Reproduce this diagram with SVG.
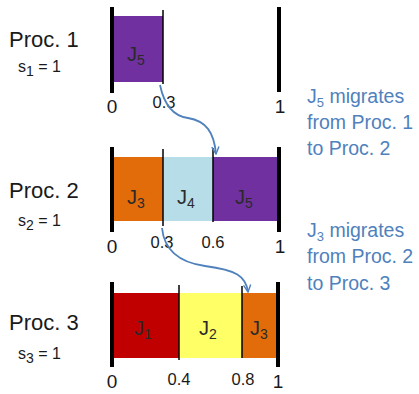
<svg xmlns="http://www.w3.org/2000/svg" width="419" height="394" viewBox="0 0 419 394">
<defs>
<style>
text{font-family:"Liberation Sans",Arial,sans-serif;fill:#1a1a1a}
.proc{font-size:22px}
.s{font-size:16px}
.job{font-size:20px;text-anchor:middle;fill:#2a2a2a}
.sub{font-size:14px}
.big{font-size:19px;text-anchor:middle}
.tick{font-size:16.5px;text-anchor:middle}
.note{font-size:19.5px;fill:#4f81bd}
.bar{stroke:#000;stroke-width:4}
.thin{stroke:#000;stroke-width:1.5}
.conn{fill:none;stroke:#4f81bd;stroke-width:1.8}
</style>
<marker id="ah" viewBox="0 0 10 10" refX="9" refY="5" markerWidth="9" markerHeight="9" markerUnits="userSpaceOnUse" orient="auto">
<path d="M1,1 L9,5 L1,9" fill="none" stroke="#4f81bd" stroke-width="1.6"/>
</marker>
</defs>
<rect width="419" height="394" fill="#fff"/>

<g id="proc1">
<text class="proc" x="9" y="47">Proc. 1</text>
<text class="s" x="18" y="72">s<tspan class="sub" dy="4">1</tspan><tspan dy="-4"> = 1</tspan></text>
<rect x="113" y="16" width="50" height="66" fill="#7030a0"/>
<line class="bar" x1="112" y1="7" x2="112" y2="93"/>
<line class="thin" x1="163" y1="10" x2="163" y2="84"/>
<line class="bar" x1="279" y1="7" x2="279" y2="92"/>
<text class="job" x="136" y="61">J<tspan class="sub" dy="4">5</tspan></text>
<text class="big" x="112" y="113">0</text>
<text class="tick" x="164" y="108">0.3</text>
<text class="big" x="280" y="113">1</text>
</g>

<g id="proc2">
<text class="proc" x="9" y="198">Proc. 2</text>
<text class="s" x="18" y="226">s<tspan class="sub" dy="4">2</tspan><tspan dy="-4"> = 1</tspan></text>
<rect x="113" y="157" width="50" height="64" fill="#e36c0a"/>
<rect x="163" y="157" width="50" height="64" fill="#b7dde8"/>
<rect x="213" y="157" width="66" height="64" fill="#7030a0"/>
<line class="bar" x1="112" y1="147" x2="112" y2="232"/>
<line class="thin" x1="163" y1="149" x2="163" y2="226"/>
<line class="thin" x1="213" y1="148" x2="213" y2="222"/>
<line class="bar" x1="279" y1="147" x2="279" y2="232"/>
<text class="job" x="136" y="204">J<tspan class="sub" dy="4">3</tspan></text>
<text class="job" x="186" y="204">J<tspan class="sub" dy="4">4</tspan></text>
<text class="job" x="244" y="204">J<tspan class="sub" dy="4">5</tspan></text>
<text class="big" x="112" y="253">0</text>
<text class="tick" x="162" y="248">0.3</text>
<text class="tick" x="213" y="248">0.6</text>
<text class="big" x="280" y="253">1</text>
</g>

<g id="proc3">
<text class="proc" x="9" y="330">Proc. 3</text>
<text class="s" x="18" y="359">s<tspan class="sub" dy="4">3</tspan><tspan dy="-4"> = 1</tspan></text>
<rect x="113" y="293" width="66" height="65" fill="#c00000"/>
<rect x="179" y="293" width="63" height="65" fill="#ffff66"/>
<rect x="242" y="293" width="36" height="65" fill="#e36c0a"/>
<line class="bar" x1="112" y1="282" x2="112" y2="367"/>
<line class="thin" x1="179" y1="285" x2="179" y2="360"/>
<line class="thin" x1="242" y1="286" x2="242" y2="358"/>
<line class="bar" x1="278" y1="282" x2="278" y2="367"/>
<text class="job" x="143" y="335">J<tspan class="sub" dy="4">1</tspan></text>
<text class="job" x="208" y="335">J<tspan class="sub" dy="4">2</tspan></text>
<text class="job" x="259" y="335">J<tspan class="sub" dy="4">3</tspan></text>
<text class="big" x="112" y="388">0</text>
<text class="tick" x="179" y="385">0.4</text>
<text class="tick" x="243" y="385">0.8</text>
<text class="big" x="278" y="388">1</text>
</g>

<g id="note1">
<text class="note" x="307" y="103">J<tspan font-size="13" dy="4">5</tspan><tspan dy="-4"> migrates</tspan></text>
<text class="note" x="307" y="129">from Proc. 1</text>
<text class="note" x="307" y="155">to Proc. 2</text>
</g>

<g id="note2">
<text class="note" x="307" y="237">J<tspan font-size="13" dy="4">3</tspan><tspan dy="-4"> migrates</tspan></text>
<text class="note" x="307" y="263">from Proc. 2</text>
<text class="note" x="307" y="290">to Proc. 3</text>
</g>

<g id="connectors">
<path class="conn" d="M160,85 C164,104 172,116 188,118 C206,121 214,132 216,154" marker-end="url(#ah)"/>
<path class="conn" d="M162,228 C164,248 176,262 205,266 C236,270 246,276 248,292" marker-end="url(#ah)"/>
</g>
</svg>
